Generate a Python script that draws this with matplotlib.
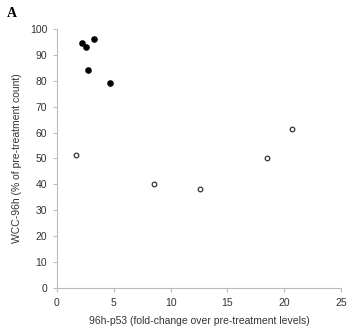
import matplotlib
matplotlib.use("Agg")
import matplotlib.pyplot as plt

# filled circles
filled_x = [2.2, 2.55, 3.25, 2.75, 4.65]
filled_y = [94.5, 93.0, 96.0, 84.2, 79.0]
# open circles
open_x = [1.65, 8.55, 12.55, 18.45, 20.65]
open_y = [51.2, 40.0, 38.2, 50.2, 61.3]

plt.rcParams['font.family'] = ['Liberation Sans', 'DejaVu Sans']

fig = plt.figure(figsize=(3.54, 3.34), dpi=100)
ax = fig.add_axes([0.161, 0.138, 0.802, 0.775])

ax.scatter(filled_x, filled_y, s=14, color='black', zorder=3)
ax.scatter(open_x, open_y, s=11, facecolor='white', edgecolor='#333333',
           linewidth=0.9, zorder=3)

ax.set_xlim(0, 25)
ax.set_ylim(0, 100)
ax.set_xticks([0, 5, 10, 15, 20, 25])
ax.set_yticks(range(0, 101, 10))

for side in ['top', 'right']:
    ax.spines[side].set_visible(False)
for side in ['left', 'bottom']:
    ax.spines[side].set_color('#bbbbbb')
    ax.spines[side].set_linewidth(0.8)
ax.tick_params(direction='out', length=3, width=0.8, color='#bbbbbb',
               labelsize=7.5, labelcolor='#333333', pad=4)

ax.set_xlabel("96h-p53 (fold-change over pre-treatment levels)",
              fontsize=7.5, color='#333333', labelpad=6)
ax.set_ylabel("WCC-96h (% of pre-treatment count)",
              fontsize=7.5, color='#333333', labelpad=6)

fig.text(0.02, 0.96, "A", fontsize=10, fontweight='bold',
         family='Liberation Serif', va='center')

fig.savefig("out.png", dpi=100)
